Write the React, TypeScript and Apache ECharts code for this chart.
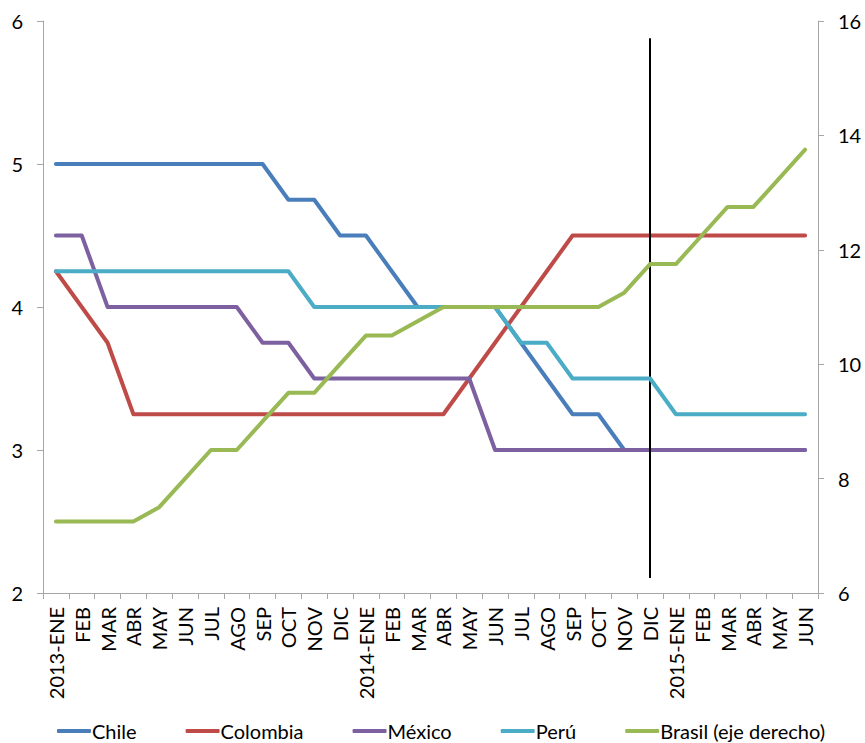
import React, { useEffect, useRef } from "react";
import * as echarts from "echarts";

// Month labels, January 2013 to June 2015
const categories: string[] = [
  "2013-ENE", "FEB", "MAR", "ABR", "MAY", "JUN", "JUL", "AGO", "SEP", "OCT", "NOV", "DIC",
  "2014-ENE", "FEB", "MAR", "ABR", "MAY", "JUN", "JUL", "AGO", "SEP", "OCT", "NOV", "DIC",
  "2015-ENE", "FEB", "MAR", "ABR", "MAY", "JUN",
];

// Policy rates (%), left axis
const chile: number[] = [5, 5, 5, 5, 5, 5, 5, 5, 5, 4.75, 4.75, 4.5, 4.5, 4.25, 4, 4, 4, 4, 3.75, 3.5, 3.25, 3.25, 3, 3, 3, 3, 3, 3, 3, 3];
const colombia: number[] = [4.25, 4, 3.75, 3.25, 3.25, 3.25, 3.25, 3.25, 3.25, 3.25, 3.25, 3.25, 3.25, 3.25, 3.25, 3.25, 3.5, 3.75, 4, 4.25, 4.5, 4.5, 4.5, 4.5, 4.5, 4.5, 4.5, 4.5, 4.5, 4.5];
const mexico: number[] = [4.5, 4.5, 4, 4, 4, 4, 4, 4, 3.75, 3.75, 3.5, 3.5, 3.5, 3.5, 3.5, 3.5, 3.5, 3, 3, 3, 3, 3, 3, 3, 3, 3, 3, 3, 3, 3];
const peru: number[] = [4.25, 4.25, 4.25, 4.25, 4.25, 4.25, 4.25, 4.25, 4.25, 4.25, 4, 4, 4, 4, 4, 4, 4, 4, 3.75, 3.75, 3.5, 3.5, 3.5, 3.5, 3.25, 3.25, 3.25, 3.25, 3.25, 3.25];
// Right axis
const brasil: number[] = [7.25, 7.25, 7.25, 7.25, 7.5, 8, 8.5, 8.5, 9, 9.5, 9.5, 10, 10.5, 10.5, 10.75, 11, 11, 11, 11, 11, 11, 11, 11.25, 11.75, 11.75, 12.25, 12.75, 12.75, 13.25, 13.75];

const seriesNames: string[] = ["Chile", "Colombia", "México", "Perú", "Brasil (eje derecho)"];
const seriesColors: string[] = ["#4a7ebb", "#be4b48", "#7d60a0", "#4aacc5", "#98b954"];

// Vertical marker at DIC 2014
const markerIndex = 23;
const markerRange: [number, number] = [5.88, 2.105];

const FONT = "Lato, 'Open Sans', sans-serif";

export default function App() {
  const ref = useRef<HTMLDivElement>(null);

  useEffect(() => {
    if (!ref.current) return;
    const chart = echarts.init(ref.current, undefined, { renderer: "svg" });
    const values = [chile, colombia, mexico, peru, brasil];

    const series: any[] = values.map((data, i) => ({
      name: seriesNames[i],
      type: "line",
      data,
      yAxisIndex: i === 4 ? 1 : 0,
      symbol: "none",
      smooth: false,
      lineStyle: { width: 4, color: seriesColors[i], cap: "round", join: "round" },
      itemStyle: { color: seriesColors[i] },
      z: 2 + i,
    }));

    series[0].markLine = {
      silent: true,
      symbol: ["none", "none"],
      label: { show: false },
      lineStyle: { color: "#000", width: 2, type: "solid" },
      data: [[{ coord: [markerIndex, markerRange[0]] }, { coord: [markerIndex, markerRange[1]] }]],
    };

    const axisLine = { show: true, lineStyle: { color: "#a6a6a6", width: 1 } };

    chart.setOption({
      animation: false,
      backgroundColor: "#fff",
      textStyle: { fontFamily: FONT },
      grid: { left: 43, right: 47, top: 21, bottom: 150, containLabel: false },
      legend: {
        bottom: 2,
        left: 57,
        padding: 0,
        itemGap: 49,
        itemWidth: 34,
        itemHeight: 4,
        icon: "roundRect",
        textStyle: { fontFamily: FONT, fontSize: 20, color: "#000", padding: [0, 0, 0, -4] },
        data: seriesNames,
      },
      xAxis: {
        type: "category",
        data: categories,
        boundaryGap: true,
        axisLine,
        axisTick: { show: true, length: 6, interval: 0, lineStyle: { color: "#a6a6a6" } },
        axisLabel: {
          interval: 0,
          rotate: 90,
          margin: 14,
          fontFamily: FONT,
          fontSize: 20,
          color: "#000",
        },
        splitLine: { show: false },
      },
      yAxis: [
        {
          type: "value",
          min: 2,
          max: 6,
          interval: 1,
          position: "left",
          axisLine,
          axisTick: { show: true, length: 6, lineStyle: { color: "#a6a6a6" } },
          axisLabel: { margin: 20, fontFamily: FONT, fontSize: 20, color: "#000" },
          splitLine: { show: false },
        },
        {
          type: "value",
          min: 6,
          max: 16,
          interval: 2,
          position: "right",
          axisLine,
          axisTick: { show: true, length: 6, lineStyle: { color: "#a6a6a6" } },
          axisLabel: { margin: 20, fontFamily: FONT, fontSize: 20, color: "#000" },
          splitLine: { show: false },
        },
      ],
      series,
    });

    return () => chart.dispose();
  }, []);

  return (
    <div
      ref={ref}
      style={{ position: "absolute", left: 0, top: 0, width: 865, height: 743 }}
    />
  );
}
